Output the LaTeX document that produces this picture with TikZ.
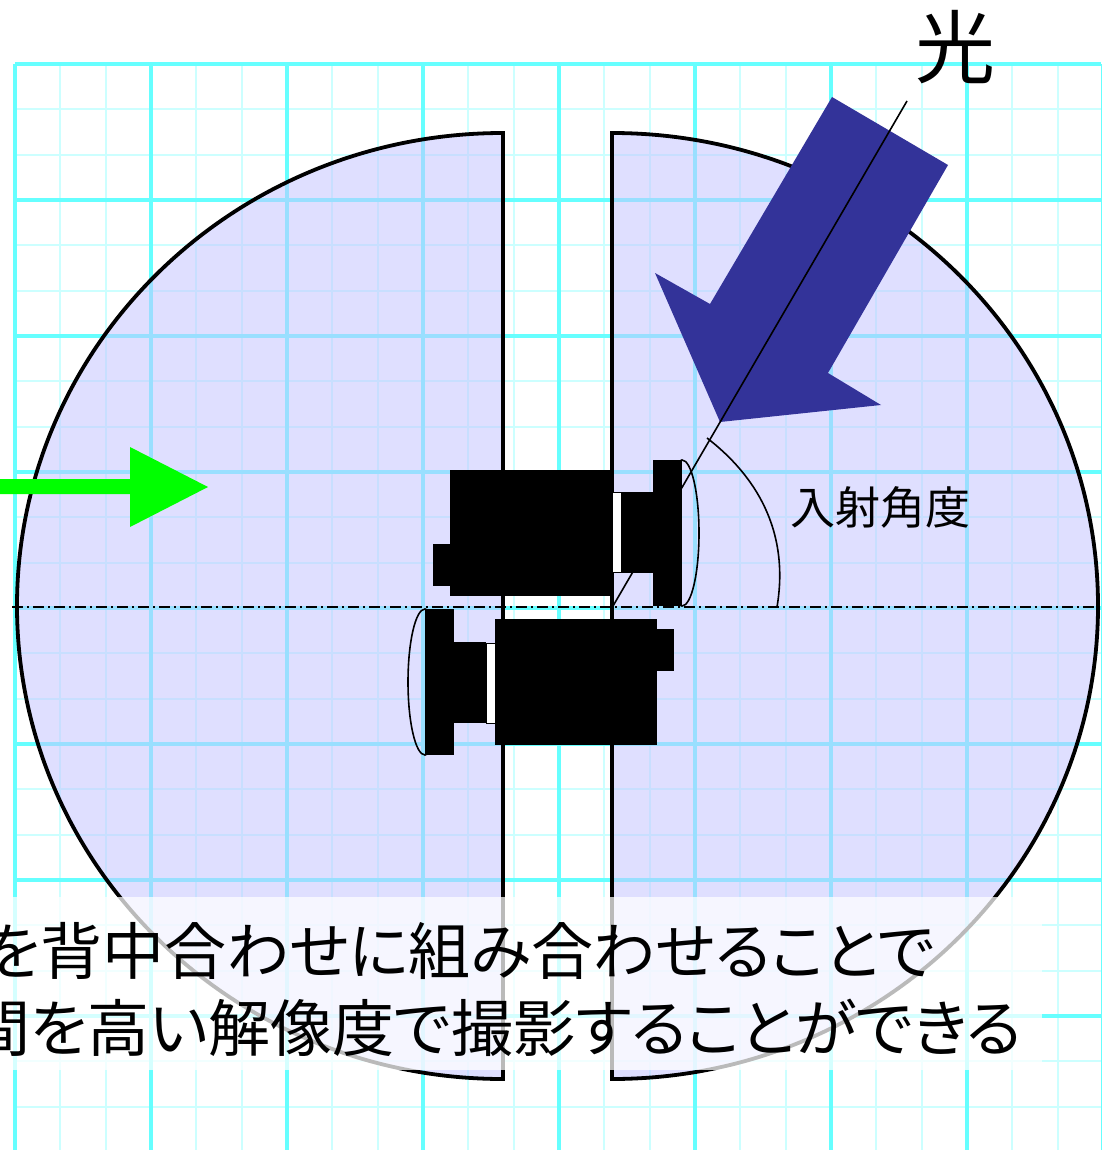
\documentclass[tikz,border=0pt]{standalone}
\usepackage{fontspec}
\newfontfamily\jp[RawFeature=+palt]{Noto Sans CJK JP}
\newfontfamily\jpf{Noto Sans CJK JP}
\definecolor{gridmaj}{RGB}{102,255,255}
\definecolor{gridmin}{RGB}{204,255,255}
\definecolor{halffill}{RGB}{197,197,255}
\definecolor{raycolor}{RGB}{51,51,153}
\definecolor{arrowgreen}{RGB}{0,255,0}
\tikzset{
  minorline/.style={draw=gridmin, line width=1.8pt},
  majorline/.style={draw=gridmaj, line width=3.2pt},
  halfdisc/.style={fill=halffill, fill opacity=0.54, draw=black, line width=3.8pt},
  axisline/.style={draw=black, line width=1.6pt, dash pattern=on 11pt off 4pt on 2pt off 4pt},
  thinline/.style={draw=black, line width=1.6pt},
  campart/.style={fill=black},
}
\begin{document}
\begin{tikzpicture}[x=1pt,y=-1pt]
\useasboundingbox (0,0) rectangle (1101,1150);
\fill[white] (0,0) rectangle (1101,1150);

% graph paper
\foreach \i in {0,...,24} {
  \pgfmathsetmacro\g{15+\i*136/3}
  \pgfmathsetmacro\h{64+\i*136/3}
  \draw[minorline] (\g,64) -- (\g,1150);
  \draw[minorline] (15,\h) -- (1101,\h);
}
\foreach \i in {0,...,8} {
  \pgfmathsetmacro\g{15+\i*136}
  \pgfmathsetmacro\h{64+\i*136}
  \draw[majorline] (\g,64) -- (\g,1150);
  \draw[majorline] (15,\h) -- (1101,\h);
}

% the two half discs of the field of view
\path[halfdisc] (503,133) arc[start angle=270, end angle=90, x radius=486, y radius=473] -- cycle;
\path[halfdisc] (612,133) arc[start angle=-90, end angle=90, x radius=486, y radius=473] -- cycle;

% optical axis
\draw[axisline] (12,607) -- (1101,607);

% incoming light
\fill[raycolor] (832,97) -- (948,165) -- (828,373) -- (881,405) -- (720,422) -- (655,273) -- (710,304) -- cycle;
\coordinate (vertex) at (613,606);
\coordinate (raytop) at (907,101);
\draw[thinline] (vertex) -- (raytop);

% two cameras back to back
\foreach \r in {0,180} {
  \begin{scope}[rotate around={\r:(553.5,607.5)}]
    \draw[thinline] (682,533) ellipse[x radius=17, y radius=73];
    \fill[campart] (433,544) rectangle (450,586);
    \fill[campart] (450,470) rectangle (612,596);
    \filldraw[fill=white, draw=black, line width=0.8pt] (612,492) rectangle (621,572);
    \fill[campart] (621,492) rectangle (653,573);
    \fill[campart] (653,460) rectangle (682,606);
  \end{scope}
}

% angle of incidence
\coordinate (arcstart) at (707,438);
\coordinate (arcend) at (777,607);
\draw[thinline] (arcstart) .. controls (755,475) and (790,530) .. (arcend);
\node[font=\jpf\fontsize{45}{45}\selectfont, inner sep=0] (anglelabel) at (880,507) {入射角度};
\node[font=\jpf\fontsize{80}{80}\selectfont, inner sep=0] (lightlabel) at (955,47) {光};

% direction of travel
\fill[arrowgreen] (-5,479) -- (130,479) -- (130,447) -- (208,487) -- (130,527) -- (130,494) -- (-5,494) -- cycle;

% caption
\fill[white, fill opacity=0.73] (-5,897) rectangle (1042,1070);
\node[anchor=east, inner sep=0, font=\jp\fontsize{62}{62}\selectfont] (caption1) at (935,951) {を背中合わせに組み合わせることで};
\node[anchor=east, inner sep=0, font=\jp\fontsize{62}{62}\selectfont] (caption2) at (1022,1028) {間を高い解像度で撮影することができる};
\end{tikzpicture}
\end{document}
